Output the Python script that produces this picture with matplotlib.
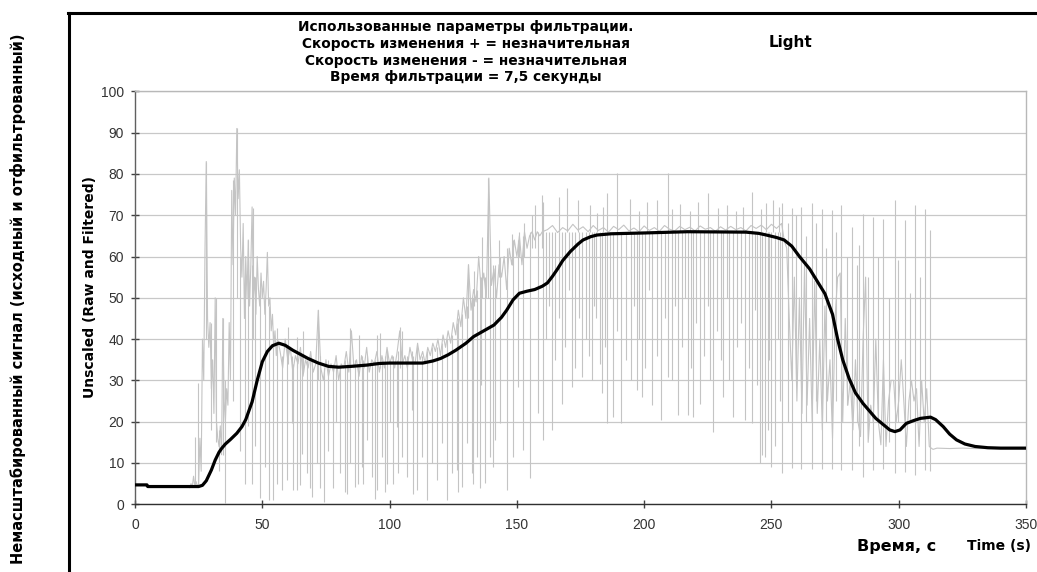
import matplotlib
matplotlib.use("Agg")
import matplotlib.pyplot as plt
from matplotlib.lines import Line2D
import numpy as np

# ---------------- data ----------------
# filtered signal (black)
filt_t = [0, 4.7, 5, 25, 26.5, 28, 30, 31.5, 33, 34, 35.5, 37.5, 40, 42, 43.5, 46, 48, 50, 52, 54,
          56.5, 59, 62, 65, 68, 72, 76, 80, 85, 91, 96, 100, 106, 113, 117, 120, 123, 126, 130,
          133, 137, 141, 144, 146, 148.5, 151, 154, 157, 160, 162, 164, 166, 168, 171, 174, 176,
          179, 181.5, 187, 200, 217, 240, 245, 248, 252, 255, 258, 261, 265, 268, 271, 274, 276,
          278, 280.5, 283, 286, 291, 296.5, 298.5, 300.5, 303, 306, 308.5, 312.5, 314.5, 317.5,
          320, 322.7, 326, 330, 335, 340, 350]
filt_v = [4.7, 4.7, 4.3, 4.3, 4.6, 5.7, 8.3, 10.7, 12.6, 13.5, 14.6, 15.7, 17.2, 18.8, 20.5, 24.8,
          30, 34.5, 37, 38.4, 39, 38.5, 37.3, 36.3, 35.3, 34.2, 33.4, 33.2, 33.4, 33.7, 34.1, 34.2,
          34.2, 34.2, 34.7, 35.3, 36.2, 37.3, 39, 40.6, 42, 43.4, 45.3, 47, 49.5, 51.1, 51.6, 52,
          52.8, 53.6, 55.2, 57, 59, 61.2, 63, 64, 64.8, 65.2, 65.5, 65.7, 66, 65.9, 65.6, 65.2, 64.6,
          64, 62.5, 60, 57, 54, 51, 46, 40, 35, 30.5, 27, 24.4, 20.8, 18, 17.6, 18, 19.6, 20.3, 20.8,
          21.1, 20.5, 18.8, 17, 15.6, 14.6, 14, 13.7, 13.6, 13.6]

# raw signal, base trace (grey)
raw_t = [0, 4.7, 5, 20, 21, 21.5, 22, 22.5, 23, 23.5, 24, 24.5, 25,
         25.5, 26, 26.5, 27, 27.5, 28, 28.5, 29, 29.5, 30, 30.5, 31, 31.5, 32, 32.5, 33, 33.5,
         34, 34.5, 35, 35.5, 36, 36.5, 37, 37.5, 38, 38.5, 39, 39.5, 40, 40.5, 41, 41.5, 42,
         42.5, 43, 43.5, 44, 44.5, 45, 45.5, 46, 46.5, 47, 47.5, 48, 48.5, 49, 49.5, 50, 50.5,
         51, 51.5, 52, 52.5, 53, 53.5, 54, 54.5, 55, 55.5, 56,
         57, 58, 59, 60, 61, 62, 63, 64, 65, 66, 67, 68, 69, 70, 71, 72, 73, 74, 75, 76, 77, 78,
         79, 80, 81, 82, 83, 84, 85, 86, 87, 88, 89, 90, 91, 92, 93, 94, 95, 96, 97, 98, 99, 100,
         101, 102, 103, 104, 105, 106, 107, 108, 109, 110, 111, 112, 113, 114, 115,
         116, 117, 118, 119, 120, 121, 122, 123, 124, 125, 126, 127, 128, 129, 130, 131, 132,
         133, 134, 135, 136, 137, 138, 139, 140, 141, 142, 143, 144, 145, 146, 147, 148, 149,
         150, 151, 152, 153, 154, 155, 156, 157, 158, 159, 160,
         162, 164, 166, 168, 170, 172, 174, 176, 178, 180, 182, 184, 186, 188, 190, 192, 194,
         196, 198, 200, 202, 204, 206, 208, 210, 212, 214, 216, 218, 220, 222, 224, 226, 228,
         230, 232, 234, 236, 238, 240, 242, 244, 246, 248, 250, 252, 254,
         255, 256, 257, 258, 259, 260, 261, 262, 263, 264, 265, 266, 267, 268, 269, 270, 271,
         272, 273, 274, 275, 276, 277, 278, 279, 280, 281, 282, 283, 284, 285, 286, 287, 288,
         289, 290, 291, 292, 293, 294, 295, 296, 297, 298, 299, 300, 301, 302, 303, 304, 305,
         306, 307, 308, 309, 310, 311, 312, 313,
         313.5, 315, 320, 325, 330, 340, 350]
raw_v = [4.7, 4.7, 4.3, 4.3, 4.5, 4.0, 5.0, 4.2, 6.8, 4.5, 5.5, 4.3, 5.0,
         16, 8, 40, 30, 62, 83, 45, 38, 44, 28, 35, 22, 50, 20, 16, 14, 19,
         12, 45, 25, 20, 28, 24, 44, 30, 76, 58, 79, 70, 91, 74, 81, 62, 55,
         68, 45, 60, 50, 64, 48, 58, 72, 50, 55, 46, 60, 52, 48, 56, 50, 54,
         46, 52, 61, 48, 50, 42, 46, 38, 42, 36, 40,
         37, 33, 40, 35, 38, 32, 36, 34, 38, 31, 35, 33, 37, 32, 34, 47, 33, 30, 35, 31, 34, 32,
         36, 30, 34, 33, 37, 32, 42, 33, 35, 31, 36, 33, 38, 32, 35, 34, 37, 32, 36, 33, 38, 34,
         36, 33, 37, 42, 34, 36, 33, 38, 35, 34, 39, 35, 37, 34, 38,
         36, 39, 37, 40, 36, 41, 38, 42, 39, 44, 41, 47, 43, 50, 45, 58, 47,
         52, 49, 60, 52, 56, 50, 79, 53, 57, 50, 58, 55, 60, 52, 62, 58, 64,
         60, 65, 58, 66, 62, 65, 66, 64, 66, 65, 66,
         66.5, 67.5, 65.8, 67, 66.2, 67.8, 66.4, 67.2, 66, 67.5, 66.3, 67, 65.9, 67.3, 66.5, 67.6,
         66.2, 66.9, 66, 67.4, 66.3, 67, 66.1, 67.5, 66.6, 66.2, 67.3, 66.5, 67.1, 66.2, 67.4,
         66.6, 67, 66.1, 67.2, 66.4, 67.3, 66.5, 67, 66.2, 67.5, 66.8, 67.6, 66.5, 67.8, 66.8, 68,
         64, 62, 45, 30, 55, 25, 50, 22, 58, 24, 45, 20, 54, 22, 40, 18, 48,
         25, 35, 16, 45, 55, 56, 20, 45, 24, 30, 18, 35, 20, 16.4, 40, 55, 15,
         24, 20, 40, 20, 14.4, 35, 14, 25, 30, 30, 20, 25, 35, 25, 14, 25, 30,
         25, 28, 14, 30, 20, 28, 14, 13.5,
         13.3, 13.6, 13.5, 13.6, 13.5, 13.5, 13.5]

# raw signal spikes: time, low end, high end
spike_t = [23.6, 24.9, 27.9, 29.8, 31.8, 33.0, 34.7, 35.4, 38.3, 39.9, 41.2, 43.2, 44.5, 45.8,
           46.2, 47.1, 49.1, 51.1, 52.8, 54.3, 55.6,
           57.6, 59.6, 61.5, 61.9, 63.5, 64.8, 65.5, 67.4, 68.7, 69.4, 71.4, 72.7, 74.2, 76.0,
           77.9, 79.0, 80.5, 82.5, 83.1, 84.4, 86.4, 87.7, 89.0, 89.7, 91.0, 93.0, 94.3, 95.0,
           96.9, 98.2, 98.9, 100.3, 101.5, 102.8, 103.4, 104.8, 106.7, 108.7, 109.3, 110.7,
           112.6, 114.6,
           72.0, 84.4, 104.0, 66.0, 95.0, 60.0, 88.0, 63.5, 96.2,
           116.6, 118.5, 120.5, 122.4, 124.4, 126.4, 127.0, 128.3, 130.3, 132.3, 132.9, 134.2,
           135.5, 135.8, 137.5, 139.5, 140.7, 141.4, 143.4, 146.0, 148.6, 150.6, 152.6, 155.2,
           158.5, 160.4,
           131.0, 133.0, 138.8, 136.5, 143.0, 148.0, 151.0, 153.0, 156.0, 157.2, 159.8,
           163.7, 167.6, 171.6, 175.5, 179.4, 183.3, 185.3, 187.8, 191.1, 195.0, 197.0, 199.0,
           202.9, 206.8, 209.4, 213.4, 217.3, 219.3, 221.9, 227.1, 231.0, 235.0, 239.5, 242.2,
           245.4, 246.2, 247.4, 248.5, 250.0, 251.5,
           161.5, 162.5, 165.0, 166.5, 169.0, 170.5, 173.0, 174.5, 177.0, 178.5, 180.2, 182.5,
           181.0, 184.5, 186.5, 189.4, 193.0, 196.0, 198.0, 200.5, 201.8, 204.9, 208.0, 211.0,
           212.2, 215.0, 216.2, 218.3, 220.5, 223.5, 225.2, 226.0, 228.5, 230.0, 232.4, 233.5,
           236.5, 238.0, 241.0, 243.5, 244.5, 249.2, 252.5, 253.3,
           160.4, 166.7, 169.6, 174.2, 178.8, 181.4, 184.0, 185.5, 189.4, 194.4, 201.0, 204.9,
           209.4, 214.0, 221.2, 225.2, 232.4, 242.2, 250.7, 198.0, 211.0, 218.0, 229.0, 236.0,
           239.0, 246.0, 248.0, 253.0,
           254.0, 256.5, 257.9, 259.5, 261.8, 263.5, 265.8, 267.5, 269.7, 271.5, 273.6, 275.5,
           277.5, 279.5, 281.5, 283.5, 284.5, 286.0, 288.0, 290.0, 292.0, 293.9, 296.0, 298.5,
           299.8, 302.4, 304.4, 306.4, 308.3, 310.3, 312.2]
spike_lo = [4.5, 4.5, 40, 18, 15, 8, 12, 0.3, 25, 50, 13, 5, 19, 5,
            40, 14, 1.5, 9, 1, 1, 5,
            3.4, 6, 19.6, 3.5, 3.4, 4.6, 12.3, 7.5, 4, 1.8, 9.9, 4, 0.5, 13,
            4, 20, 7.5, 3, 2.6, 9.9, 4.3, 5, 9, 5, 15.6, 6.7, 1.2, 3.4,
            11.5, 3, 5, 20, 5, 18.8, 7.5, 11.5, 6.7, 22.8, 2.5, 3.4,
            11.5, 1,
            30, 33, 33, 32, 33, 34, 33, 33, 33,
            9.9, 5.9, 14.8, 1, 7.5, 8.3, 3, 4.3, 14.8, 7.5, 5, 11.5,
            4, 29, 5.1, 11.5, 9, 15.6, 19.6, 3.4, 11.5, 28.5, 13.1, 6.3,
            22, 15.6,
            45, 48, 50, 50, 55, 58, 60, 60, 62, 62, 62,
            18, 24.4, 28.5, 30.9, 30.1, 26.9, 19.6, 21.2, 19.6, 30, 27.7, 26,
            24, 20.4, 30.9, 21.6, 21.6, 21.2, 24.4, 17.6, 26, 21.2, 20.4, 19.6,
            9.9, 12, 11.5, 18, 9.1, 14,
            40, 48, 35, 45, 38, 52, 33, 45, 40, 36, 48, 34,
            45, 38, 50, 42, 35, 48, 40, 33, 52, 36, 45, 30,
            48, 38, 50, 33, 44, 36, 48, 30, 42, 35, 50, 30,
            38, 44, 33, 47, 29, 35, 40, 25,
            66, 66, 66, 66, 66, 66, 66, 66, 66, 66, 66, 66,
            66, 66, 66, 66, 66, 66, 66, 66, 66, 66, 66, 66,
            66, 66, 66, 66,
            7.5, 20, 8.7, 30, 8.5, 20, 8.5, 25, 8.5, 20, 8.5, 25,
            8.2, 24, 8.2, 20, 14, 6.7, 18, 8.3, 20, 8.5, 15, 7.5,
            20, 7.8, 20, 7.2, 20, 8.3, 8.0]
spike_hi = [16.4, 29.3, 83, 44, 50, 18, 45, 30, 78.6, 91, 60, 55, 64, 58,
            71.7, 55, 52, 50, 48, 42, 42.6,
            36, 38, 36, 34, 35, 37, 36, 35, 36, 35, 34, 36, 33, 35,
            34, 34, 33, 35, 34, 40, 35, 34, 36, 35, 36, 34, 35, 36,
            35, 36, 37, 35, 36, 35, 37, 42, 36, 37, 36, 38,
            36, 37,
            47, 42.6, 43, 42, 41, 43, 41, 40.6, 41.4,
            38, 38, 39, 40, 41, 44, 45, 46, 48, 50, 50, 52,
            55, 55, 55, 60, 58, 58, 60, 62, 64, 64, 65, 66,
            66, 67,
            58.3, 56.6, 78.9, 64.8, 64, 65.5, 66, 68, 70, 72.5, 75,
            66, 66, 66, 66, 66, 66, 66, 66, 66, 66, 66, 66,
            66, 66, 66, 66, 66, 66, 66, 66, 66, 66, 66, 66,
            66, 66, 66, 66, 66, 66,
            66, 66, 66, 66, 66, 66, 66, 66, 66, 66, 66, 66,
            66, 66, 66, 66, 66, 66, 66, 66, 66, 66, 66, 66,
            66, 66, 66, 66, 66, 66, 66, 66, 66, 66, 66, 66,
            66, 66, 66, 66, 66, 66, 66, 66,
            73.3, 74.5, 76.5, 73.7, 72.5, 70.5, 72, 75.3, 80.1, 74, 73.3, 73.7,
            80.1, 72.8, 73.3, 75.3, 72.5, 75.7, 73.7, 71, 71.5, 71, 71.8, 71,
            72, 71.5, 73, 72,
            73, 68, 71.7, 70, 72, 65, 72.9, 68, 71.6, 62, 71.3, 66,
            72.5, 60, 67.2, 58, 62.8, 70.4, 55, 69.6, 60, 69.2, 50, 73.7,
            59.1, 68.8, 51.1, 72.5, 55, 71.6, 66.4]

x_ticks = [0, 50, 100, 150, 200, 250, 300, 350]
y_ticks = [0, 10, 20, 30, 40, 50, 60, 70, 80, 90, 100]

title_lines = ["Использованные параметры фильтрации.",
               "Скорость изменения + = незначительная",
               "Скорость изменения - = незначительная",
               "Время фильтрации = 7,5 секунды"]

# ---------------- figure ----------------
plt.rcParams['font.family'] = ['Liberation Sans', 'DejaVu Sans']
BOLD = ['DejaVu Sans']
W, H = 1037, 572
fig = plt.figure(figsize=(W / 100, H / 100), dpi=100)
fig.patch.set_facecolor('white')

ax_l, ax_r, ax_top, ax_bot = 135, 1026, 91.3, 504.3
ax = fig.add_axes([ax_l / W, 1 - ax_bot / H, (ax_r - ax_l) / W, (ax_bot - ax_top) / H])

grey = '#c4c4c4'
ax.plot(raw_t, raw_v, color=grey, lw=0.8, zorder=2)
ax.vlines(spike_t, spike_lo, spike_hi, color=grey, lw=0.8, zorder=2)
ax.plot(filt_t, filt_v, color='black', lw=2.3, zorder=3, solid_joinstyle='round')

ax.set_xlim(0, 350)
ax.set_ylim(0, 100)
ax.set_xticks(x_ticks)
ax.set_yticks(y_ticks)
ax.yaxis.grid(True, color='#c8c8c8', lw=0.9)
ax.set_axisbelow(True)
for s in ['top', 'right']:
    ax.spines[s].set_color('#b8b8b8')
    ax.spines[s].set_linewidth(1.0)
ax.spines['left'].set_color('#606060')
ax.spines['bottom'].set_color('#303030')
ax.spines['left'].set_linewidth(1.0)
ax.spines['bottom'].set_linewidth(1.0)
ax.tick_params(axis='both', direction='inout', length=6, width=1, colors='#404040',
               labelsize=10, labelcolor='#333333')
ax.tick_params(axis='x', pad=7)
ax.tick_params(axis='y', pad=5)


def fx(x):
    return x / W


def fy(y):
    return 1 - y / H


# titles
for i, line in enumerate(title_lines):
    fig.text(fx(466), fy(27 + i * 16.8), line, ha='center', va='center',
             fontsize=9.9, fontweight='bold', family=BOLD)
fig.text(fx(791), fy(42), "Light", ha='center', va='center', fontsize=11,
         fontweight='bold', family=BOLD)
fig.text(fx(897), fy(546), "Время, с", ha='center', va='center', fontsize=11.5,
         fontweight='bold', family=BOLD)
fig.text(fx(999), fy(546), "Time (s)", ha='center', va='center', fontsize=10,
         fontweight='bold', family=BOLD)
fig.text(fx(90), fy(287), "Unscaled (Raw and Filtered)", rotation=90, ha='center',
         va='center', fontsize=10, fontweight='bold', family=BOLD)
fig.text(fx(18), fy(299), "Немасштабированный сигнал (исходный и отфильтрованный)",
         rotation=90, ha='center', va='center', fontsize=10.5, fontweight='bold', family=BOLD)

# outer frame (left and top)
fig.add_artist(Line2D([fx(69), fx(69)], [fy(13), 0], color='black', lw=2.2,
                      transform=fig.transFigure))
fig.add_artist(Line2D([fx(68), 1], [fy(13), fy(13)], color='black', lw=2.2,
                      transform=fig.transFigure))

fig.savefig('out.png', dpi=100)
